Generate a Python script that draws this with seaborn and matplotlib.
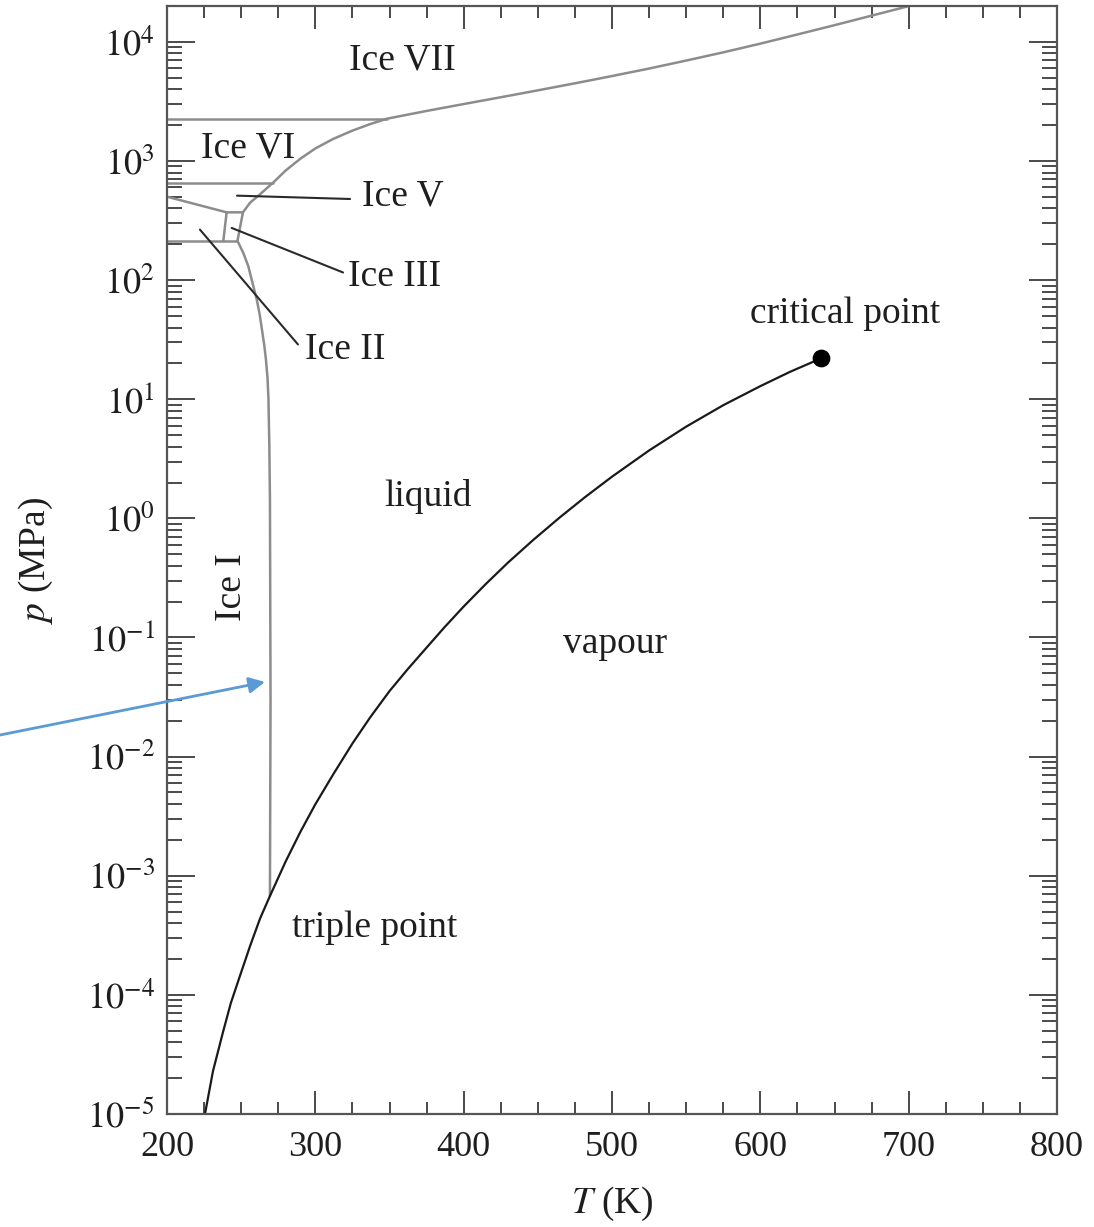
import numpy as np
import pandas as pd
import matplotlib
matplotlib.use("Agg")
import matplotlib.pyplot as plt
import seaborn as sns
from matplotlib.ticker import FixedLocator, MultipleLocator, NullFormatter

# ---------------- data (T in K, log10 of p in MPa) ----------------
vapour_T = [225.6, 231.0, 237.8, 243.0, 249.2, 256.0, 262.7, 269.4, 280.0, 290.0,
            300.0, 312.0, 325.0, 337.0, 350.0, 362.0, 375.0, 387.0, 400.0, 415.0,
            430.0, 447.0, 465.0, 482.0, 500.0, 525.0, 550.0, 575.0, 600.0, 620.0, 640.9]
vapour_log10p = [-5.0, -4.64, -4.31, -4.07, -3.84, -3.59, -3.36, -3.17, -2.88, -2.63,
                 -2.40, -2.15, -1.89, -1.67, -1.45, -1.27, -1.085, -0.915, -0.74, -0.55,
                 -0.37, -0.18, 0.01, 0.18, 0.35, 0.57, 0.77, 0.95, 1.11, 1.23, 1.343]

iceI_T = [247.5, 251.4, 254.8, 258.2, 260.5, 262.5, 264.0, 265.5, 266.7, 267.8,
          268.4, 269.0, 269.4, 269.8, 269.4]
iceI_log10p = [2.33, 2.229, 2.117, 1.949, 1.837, 1.71, 1.586, 1.46, 1.334, 1.17,
               1.0, 0.6, 0.16, -1.52, -3.17]

melt_T = [247.5, 251.2, 256.0, 261.3, 266.0, 271.5, 280.0, 290.0, 300.0, 312.0,
          325.0, 337.0, 348.3, 375.0, 400.0, 425.0, 450.0, 475.0, 500.0, 525.0,
          550.0, 575.0, 600.0, 625.0, 650.0, 675.0, 700.0]
melt_log10p = [2.33, 2.569, 2.650, 2.705, 2.757, 2.818, 2.92, 3.02, 3.105, 3.185,
               3.255, 3.31, 3.355, 3.42, 3.478, 3.535, 3.593, 3.652, 3.713, 3.776,
               3.843, 3.912, 3.985, 4.062, 4.14, 4.22, 4.30]

vi_vii_T = [200.0, 348.3]
vi_vii_log10p = [3.355, 3.355]
v_vi_T = [200.0, 271.5]
v_vi_log10p = [2.816, 2.816]
ii_v_T = [200.0, 240.2, 251.2]
ii_v_log10p = [2.70, 2.569, 2.569]
box_left_T = [240.2, 238.0]
box_left_log10p = [2.569, 2.332]
ii_i_T = [200.0, 247.5]
ii_i_log10p = [2.33, 2.33]

leader_V_T = [247.2, 323.4]
leader_V_log10p = [2.709, 2.681]
leader_III_T = [243.6, 318.7]
leader_III_log10p = [2.438, 2.064]
leader_II_T = [222.2, 288.3]
leader_II_log10p = [2.424, 1.46]

critical_T = [640.9]
critical_log10p = [1.343]

x_ticks = [200, 300, 400, 500, 600, 700, 800]
y_decades = [-5, -4, -3, -2, -1, 0, 1, 2, 3, 4]

# ---------------- style ----------------
sns.set_theme(style="ticks")
plt.rcParams["font.family"] = ["Liberation Serif", "DejaVu Serif"]
plt.rcParams["mathtext.fontset"] = "stix"

W, H = 1094, 1227
fig = plt.figure(figsize=(W / 100, H / 100), dpi=100)
fig.patch.set_facecolor("white")
ax = fig.add_axes([167 / W, 1 - 1114 / H, (1057 - 167) / W, (1114 - 6) / H])
ax.set_facecolor("white")
ax.set_yscale("log")

GRAY = "#8c8c8c"
DARK = "#2a2a2a"


def draw(T, lp, color, lw):
    df = pd.DataFrame({"T": T, "p": 10 ** np.asarray(lp, dtype=float)})
    sns.lineplot(data=df, x="T", y="p", sort=False, estimator=None,
                 color=color, lw=lw, ax=ax)


# phase boundaries
draw(melt_T, melt_log10p, GRAY, 1.8)
draw(iceI_T, iceI_log10p, GRAY, 1.8)
draw(vi_vii_T, vi_vii_log10p, GRAY, 1.8)
draw(v_vi_T, v_vi_log10p, GRAY, 1.8)
draw(ii_v_T, ii_v_log10p, GRAY, 1.8)
draw(box_left_T, box_left_log10p, GRAY, 1.8)
draw(ii_i_T, ii_i_log10p, GRAY, 1.8)
draw(vapour_T, vapour_log10p, "#1a1a1a", 1.6)

# leader lines
draw(leader_V_T, leader_V_log10p, DARK, 1.5)
draw(leader_III_T, leader_III_log10p, DARK, 1.5)
draw(leader_II_T, leader_II_log10p, DARK, 1.5)

# critical point
sns.scatterplot(x=critical_T, y=list(10 ** np.asarray(critical_log10p)), s=140,
                color="black", edgecolor="black", ax=ax, zorder=5)

# labels
TXT = "#1e1e1e"
fs = 27
ax.text(359, 10 ** 3.849, "Ice VII", fontsize=fs, color=TXT, ha="center", va="center")
ax.text(223, 10 ** 3.11, "Ice VI", fontsize=fs, color=TXT, ha="left", va="center")
ax.text(331.5, 10 ** 2.70, "Ice V", fontsize=fs, color=TXT, ha="left", va="center")
ax.text(322, 10 ** 2.03, "Ice III", fontsize=fs, color=TXT, ha="left", va="center")
ax.text(293, 10 ** 1.418, "Ice II", fontsize=fs, color=TXT, ha="left", va="center")
ax.text(657, 10 ** 1.72, "critical point", fontsize=fs, color=TXT, ha="center", va="center")
ax.text(376, 10 ** 0.186, "liquid", fontsize=fs, color=TXT, ha="center", va="center")
ax.text(502, 10 ** -1.055, "vapour", fontsize=fs, color=TXT, ha="center", va="center")
ax.text(243.8, 10 ** -0.577, "Ice I", fontsize=fs, color=TXT, ha="center", va="center",
        rotation=90)
ax.text(340, 10 ** -3.44, "triple point", fontsize=fs, color=TXT, ha="center", va="center")

# axes
ax.set_xlim(200, 800)
ax.set_ylim(1e-5, 2e4)
ax.set_xticks(x_ticks)
ax.xaxis.set_minor_locator(MultipleLocator(25))
ax.yaxis.set_major_locator(FixedLocator([10.0 ** k for k in y_decades]))
ax.set_yticklabels([rf"$10^{{{k}}}$" for k in y_decades])
minor_y = [m * 10.0 ** k for k in y_decades for m in range(2, 10) if m * 10.0 ** k <= 2e4]
ax.yaxis.set_minor_locator(FixedLocator(minor_y))
ax.yaxis.set_minor_formatter(NullFormatter())

ax.tick_params(axis="both", which="both", direction="in", top=True, right=True,
               color="#4a4a4a", width=1.4, labelcolor=TXT, labelsize=26)
ax.tick_params(axis="y", which="major", length=20, pad=9)
ax.tick_params(axis="y", which="minor", length=11)
ax.tick_params(axis="x", which="major", length=16.5, pad=12)
ax.tick_params(axis="x", which="minor", length=8.6)
for sp in ax.spines.values():
    sp.set_color("#555555")
    sp.set_linewidth(1.6)

ax.set_xlabel(r"$T$ (K)", fontsize=27, color=TXT)
ax.set_ylabel(r"$p$ (MPa)", fontsize=27, color=TXT)
ax.xaxis.set_label_coords(0.5, -0.064)
ax.yaxis.set_label_coords(-0.126, 0.5)

# blue annotation arrow
ax.annotate("", xy=(266.1, 10 ** -1.373), xycoords="data",
            xytext=(0.0, 1 - 735 / H), textcoords="figure fraction",
            arrowprops=dict(arrowstyle="-|>", color="#5B9BD5", lw=2,
                            mutation_scale=24, shrinkA=0, shrinkB=0),
            annotation_clip=False)

fig.savefig("out.png", dpi=100, facecolor="white")
